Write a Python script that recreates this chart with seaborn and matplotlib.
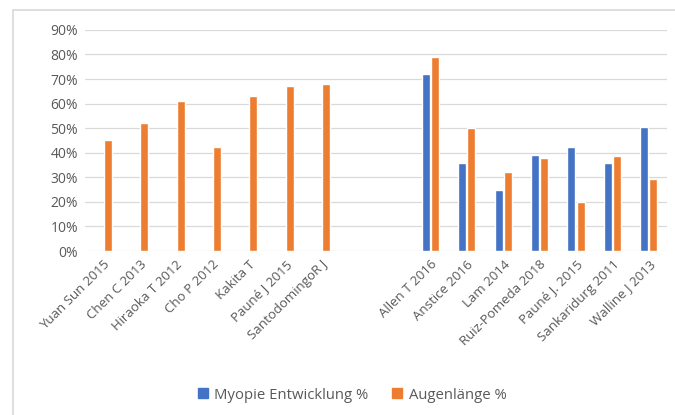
import pandas as pd
import matplotlib.pyplot as plt
import seaborn as sns
from matplotlib.patches import Rectangle

# Studien (zwei leere Plätze als Abstand zwischen den Gruppen)
studien_links = ['Yuan Sun 2015', 'Chen C 2013', 'Hiraoka T 2012', 'Cho P 2012',
                 'Kakita T', 'Pauné J 2015', 'SantodomingoR J']
studien_rechts = ['Allen T 2016', 'Anstice 2016', 'Lam 2014', 'Ruiz-Pomeda 2018',
                  'Pauné J. 2015', 'Sankaridurg 2011', 'Walline J 2013']
luecken = [' ', '  ']

# Werte in Prozent
augen_links = [45, 52, 61, 42.5, 63, 67, 68]
myopie_rechts = [72, 36, 25, 39, 42.5, 36, 50.6]
augen_rechts = [79, 50, 32, 38, 20, 38.5, 29.5]

serien = ['Myopie Entwicklung %', 'Augenlänge %']
farben = ['#4472C4', '#ED7D31']

# Langes Format für seaborn
zeilen = []
for s, v in zip(studien_links, augen_links):
    zeilen.append({'Studie': s, 'Serie': serien[1], 'Wert': v / 100})
for s, m, a in zip(studien_rechts, myopie_rechts, augen_rechts):
    zeilen.append({'Studie': s, 'Serie': serien[0], 'Wert': m / 100})
    zeilen.append({'Studie': s, 'Serie': serien[1], 'Wert': a / 100})
data = pd.DataFrame(zeilen)

reihenfolge = studien_links + luecken + studien_rechts

sns.set_style('white')
plt.rcParams['font.family'] = ['Open Sans', 'DejaVu Sans']
grau = '#595959'

fig = plt.figure(figsize=(6.75, 4.15), dpi=100)
ax = fig.add_axes([0.126, 0.395, 0.862, 0.533])

sns.barplot(data=data, x='Studie', y='Wert', hue='Serie', order=reihenfolge,
            hue_order=serien, palette=farben, width=0.5, gap=0.12,
            saturation=1, ax=ax, legend=False, zorder=3)

ax.set_ylim(0, 0.9)
ax.set_yticks([i / 10 for i in range(10)])
ax.set_yticklabels([f'{i * 10}%' for i in range(10)], color=grau, fontsize=10)
ax.set_xticks(range(len(reihenfolge)))
ax.set_xticklabels(reihenfolge, rotation=45, ha='right', rotation_mode='anchor',
                   color=grau, fontsize=9.5)
ax.tick_params(axis='both', length=0, pad=5)
ax.set_xlabel('')
ax.set_ylabel('')
ax.set_xlim(-0.5, len(reihenfolge) - 0.5)

# Gitterlinien
ax.yaxis.grid(True, color='#d9d9d9', linewidth=0.9, zorder=0)
for seite in ax.spines.values():
    seite.set_visible(False)

# Legende unten
griffe = [Rectangle((0, 0), 1, 1, color=f) for f in farben]
fig.legend(griffe, serien, loc='center', bbox_to_anchor=(0.522, 0.048), ncol=2,
           frameon=False, fontsize=10.7, handlelength=0.65, handleheight=0.65,
           columnspacing=1.6, handletextpad=0.45, labelcolor=grau)

# Rahmen des Diagramms
fig.patches.append(Rectangle((13 / 675, -0.01), 0.99, 1 - 10 / 415 + 0.01,
                             transform=fig.transFigure, fill=False,
                             edgecolor='#d9d9d9', linewidth=1.2))

plt.savefig('out.png', dpi=100)
